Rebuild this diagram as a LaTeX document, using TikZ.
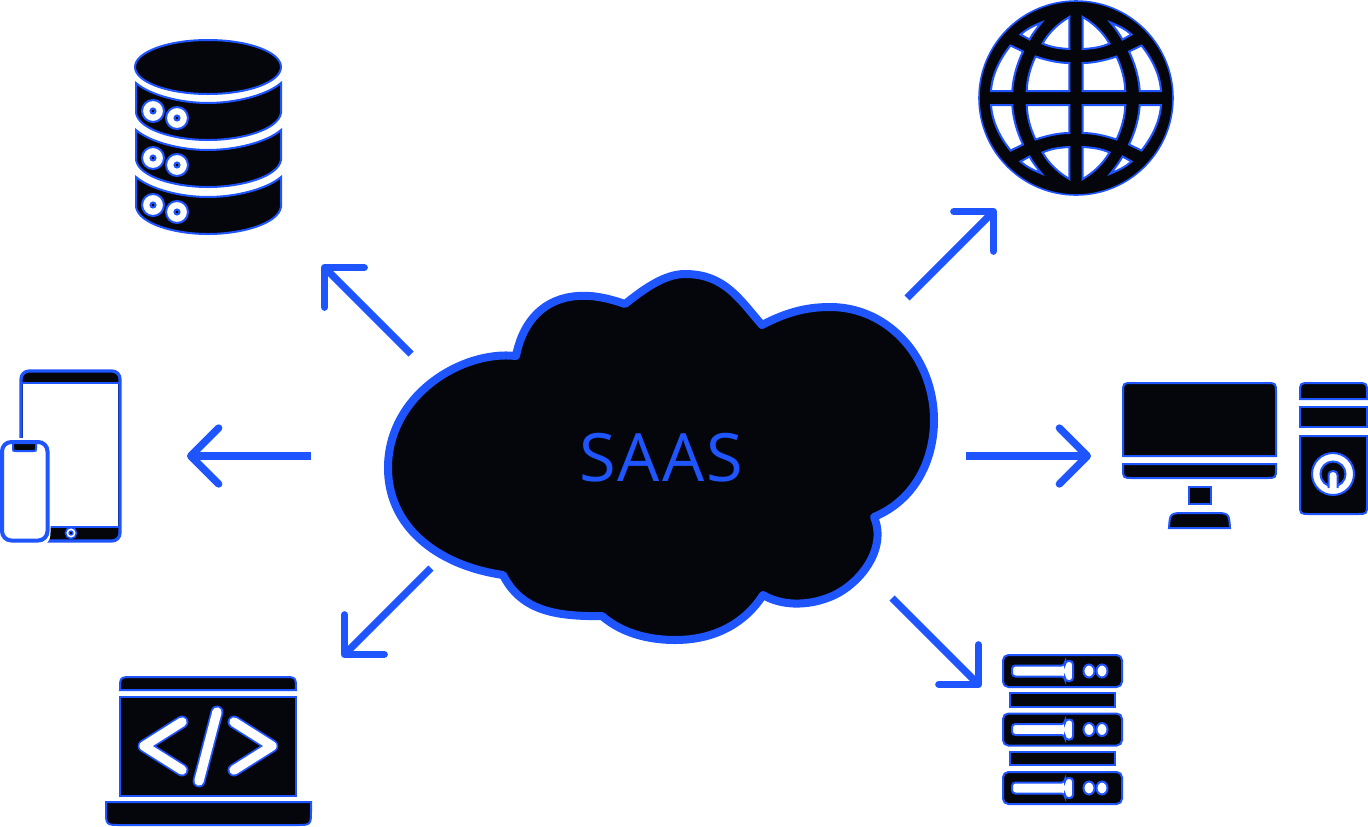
\documentclass[tikz,border=0pt]{standalone}
\usepackage{fontspec}
\setmainfont{Open Sans}
\usetikzlibrary{arrows.meta}
\definecolor{azzurro}{HTML}{1F55FF}
\definecolor{inchiostro}{HTML}{05050C}
\tikzset{
>=Stealth,
link/.style={-{Straight Barb[round,length=21pt,width=42pt]},draw=azzurro,line width=5.5pt},
cloud body/.style={draw=azzurro,fill=inchiostro,line width=6pt,line join=round},
icon/.style={draw=azzurro,fill=inchiostro,line width=1.5pt},
hole/.style={draw=azzurro,fill=white,line width=1.5pt},
code line/.style={draw=azzurro,double=white,double distance=7pt,line width=1.3pt,line cap=round,line join=round}}

\begin{document}
\begin{tikzpicture}[x=0.75pt,y=-0.75pt]
\useasboundingbox (0,0) rectangle (1368,826);

% cloud
\draw[cloud body] (516,356) .. controls (462,350) and (388,395) .. (388,468) .. controls (388,525) and (435,565) .. (503,575)
 .. controls (520,608) and (550,617) .. (602,616)
 .. controls (625,636) and (655,640) .. (675,640) .. controls (715,640) and (745,623) .. (763,595)
 .. controls (780,605) and (805,607) .. (830,597) .. controls (858,586) and (888,550) .. (874,517)
 .. controls (915,500) and (934,460) .. (934,420) .. controls (934,360) and (890,307) .. (830,307) .. controls (805,307) and (785,313) .. (762,325)
 .. controls (740,300) and (725,274) .. (685,274) .. controls (665,274) and (645,288) .. (625,304)
 .. controls (605,297) and (590,295) .. (578,296) .. controls (545,298) and (523,320) .. (516,356) -- cycle;
\node (saas) at (661,458) [text=azzurro,font=\fontsize{50}{60}\selectfont\addfontfeature{LetterSpace=3}] {SAAS};

% arrows
\coordinate (dbfrom) at (411,354);
\coordinate (dbto) at (322,265);
\coordinate (globefrom) at (907,298);
\coordinate (globeto) at (996,209);
\coordinate (tabletfrom) at (311,456);
\coordinate (tabletto) at (187,456);
\coordinate (pcfrom) at (966,456);
\coordinate (pcto) at (1091,456);
\coordinate (laptopfrom) at (431,568);
\coordinate (laptopto) at (342,657);
\coordinate (rackfrom) at (892,598);
\coordinate (rackto) at (981,687);
\draw[link] (dbfrom) -- (dbto);
\draw[link] (globefrom) -- (globeto);
\draw[link] (tabletfrom) -- (tabletto);
\draw[link] (pcfrom) -- (pcto);
\draw[link] (laptopfrom) -- (laptopto);
\draw[link] (rackfrom) -- (rackto);

% database
\draw[icon] (208,67) ellipse [x radius=73,y radius=27];
\foreach \dy in {0,47,94} {
  \begin{scope}[shift={(0,\dy)}]
  \draw[icon] (136,83) .. controls (150,95) and (180,103) .. (208,103) .. controls (236,103) and (267,95) .. (281,83)
    -- (281,113) .. controls (278,130) and (241,140) .. (208,140) .. controls (175,140) and (139,130) .. (136,113) -- cycle;
  \draw[hole] (153,111) circle (11);
  \draw[icon] (153,111) circle (2.5);
  \draw[hole] (177,118) circle (11);
  \draw[icon] (177,118) circle (2.5);
  \end{scope}
}

% globe
\fill[inchiostro] (1076,98) circle (97);
\draw[azzurro,line width=1.2pt] (1076,98) circle (97);
\foreach \sx in {1,-1} {
  \foreach \sy in {1,-1} {
    \begin{scope}[shift={(1076,98)},xscale=\sx,yscale=\sy]
    \draw[hole] (6.7,-81) -- (6.7,-49) .. controls (17,-49.5) and (26,-51) .. (33.5,-54.5) .. controls (27,-66) and (17,-75) .. cycle;
    \draw[hole] (34.5,-75.5) .. controls (43,-72) and (50,-68.5) .. (55.5,-63.5) -- (46.5,-58.5) .. controls (42.5,-65.5) and (38.5,-70.5) .. cycle;
    \draw[hole] (6.7,-35) .. controls (18,-35) and (30,-38) .. (40.5,-41.5) .. controls (46,-30) and (49,-18) .. (49.3,-7) -- (6.7,-7) -- cycle;
    \draw[hole] (53,-46.5) -- (65.5,-52.5) .. controls (75.5,-40) and (84,-24) .. (85,-7) -- (63.7,-7) .. controls (63,-20) and (59,-34) .. cycle;
    \end{scope}
  }
}

% desktop
\draw[icon] (1123,456) -- (1123,393) .. controls (1123,383) .. (1133,383) -- (1266,383) .. controls (1276,383) .. (1276,393) -- (1276,456) -- cycle;
\draw[icon] (1123,464) -- (1123,468) .. controls (1123,478) .. (1133,478) -- (1266,478) .. controls (1276,478) .. (1276,468) -- (1276,464) -- cycle;
\draw[icon] (1189,487) rectangle (1211,504);
\draw[icon] (1169,528) .. controls (1170,513) .. (1186,513) -- (1213,513) .. controls (1229,513) .. (1230,528) -- cycle;
\draw[icon] (1300,399) -- (1300,393) .. controls (1300,383) .. (1310,383) -- (1357,383) .. controls (1367,383) .. (1367,393) -- (1367,399) -- cycle;
\draw[icon] (1300,407) rectangle (1367,427);
\draw[icon] (1300,436) -- (1300,504) .. controls (1300,514) .. (1310,514) -- (1357,514) .. controls (1367,514) .. (1367,504) -- (1367,436) -- cycle;
\draw[hole] (1333,474) circle (21);
\draw[icon] (1333,474) circle (12.5);
\draw[hole,rounded corners=3pt] (1328.5,488) -- (1328.5,471) -- (1337.5,471) -- (1337.5,488);

% rack
\foreach \dy in {0,58.5,117} {
  \begin{scope}[shift={(0,\dy)}]
  \draw[icon,rounded corners=4pt] (1003,655) rectangle (1122,687);
  \draw[hole,rounded corners=2.5pt] (1012,665.5) -- (1065,665.5) -- (1065,661) -- (1073,661) -- (1073,681) -- (1065,681) -- (1065,676.5) -- (1012,676.5) -- cycle;
  \draw[hole] (1089,671) ellipse [x radius=5.5,y radius=6.5];
  \draw[hole] (1102,671) ellipse [x radius=5.5,y radius=6.5];
  \end{scope}
}
\draw[icon] (1010,693) rectangle (1115,707);
\draw[icon] (1010,752) rectangle (1115,765);

% laptop
\draw[icon] (120,690) .. controls (120,677) .. (133,677) -- (283,677) .. controls (296,677) .. (296,690) -- cycle;
\draw[icon] (120,697) rectangle (296,796);
\draw[icon] (106,802) -- (106,810) .. controls (106,825) .. (121,825) -- (296,825) .. controls (311,825) .. (311,810) -- (311,802) -- cycle;
\draw[code line] (182,722) -- (144,746) -- (182,770);
\draw[code line] (217,712) -- (199,781);
\draw[code line] (234,722) -- (272,746) -- (234,770);

% tablet and phone
\draw[icon,line width=2.4pt,rounded corners=6pt] (21,371) rectangle (120,541);
\fill[white] (23,383) rectangle (118,527);
\draw[azzurro,line width=1.2pt] (22,383) -- (119,383) (22,527) -- (119,527);
\draw[hole,line width=1.2pt] (71,533) circle (5.5);
\draw[icon,line width=1pt] (71,533) circle (2);
\fill[white,rounded corners=8pt] (-4,438) -- (54,438) -- (50,546) -- (-4,546) -- cycle;
\draw[hole,line width=3pt,rounded corners=7pt] (2,442) rectangle (47.5,540.5);
\draw[icon] (13,443) -- (13,448) .. controls (13,451) .. (16,451) -- (33,451) .. controls (36,451) .. (36,448) -- (36,443) -- cycle;

\end{tikzpicture}
\end{document}
